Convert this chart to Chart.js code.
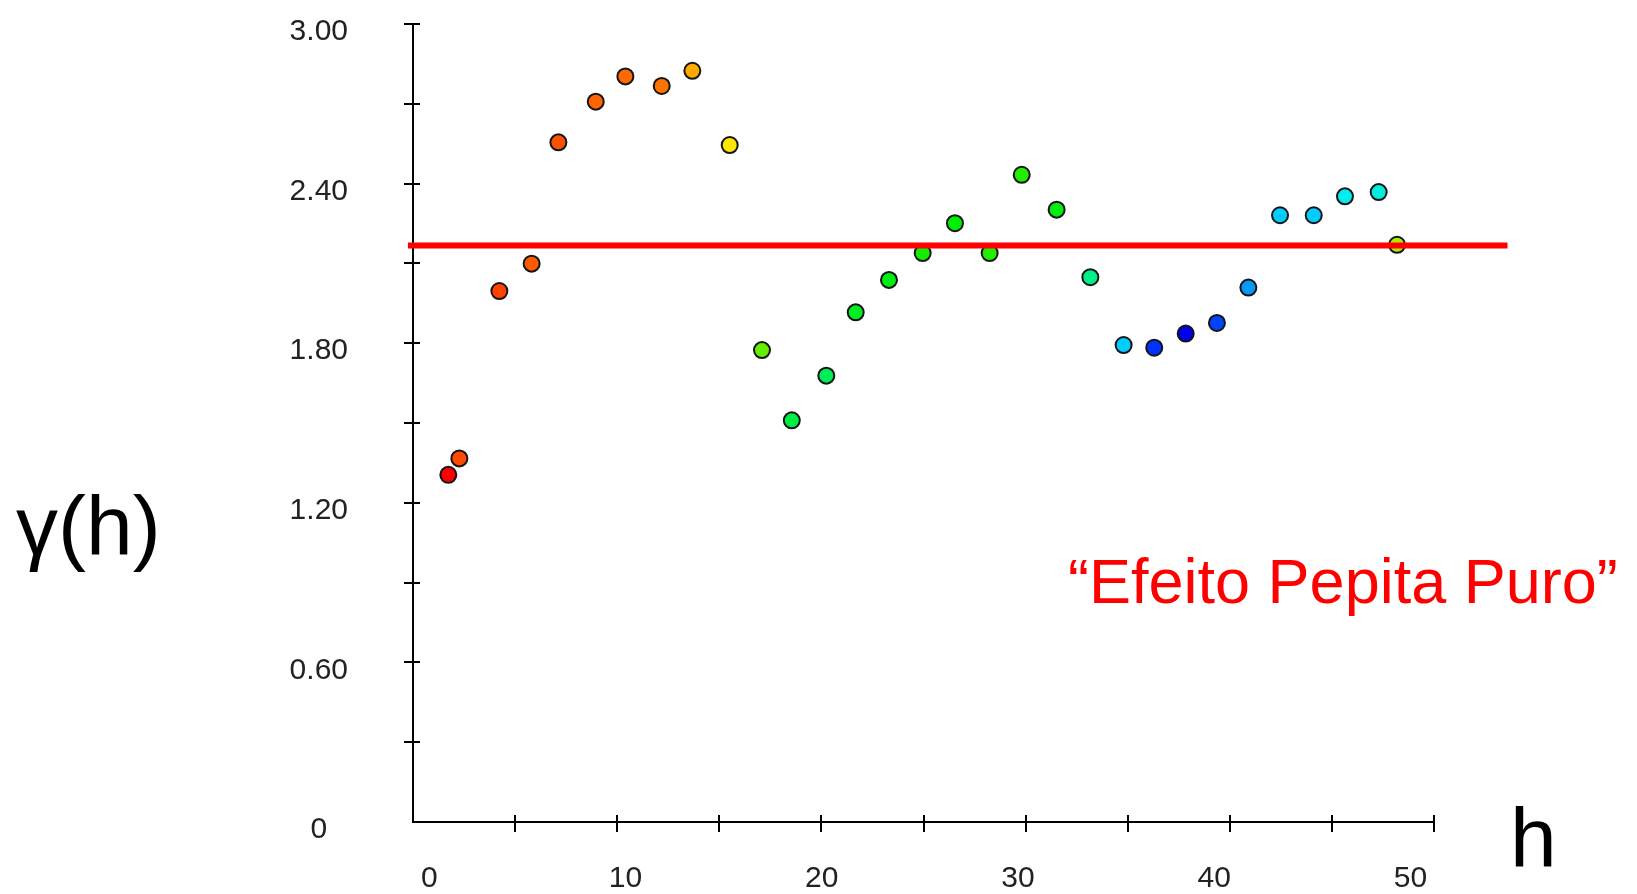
<!DOCTYPE html>
<html>
<head>
<meta charset="utf-8">
<title>Variograma - efeito pepita puro</title>
<script src="https://cdn.jsdelivr.net/npm/chart.js@4.4.1/dist/chart.umd.min.js"></script>
<style>
  html, body { margin: 0; padding: 0; background: #fff; }
  #wrap { position: relative; width: 1637px; height: 894px; }
</style>
</head>
<body>
<div id="wrap">
  <canvas id="vario" width="1637" height="894"></canvas>
</div>
<script>
// lag distance h and experimental semivariance gamma(h)
const lagH = [1.73, 2.27, 4.23, 5.81, 7.12, 8.95, 10.40, 12.18, 13.68, 15.51,
  17.09, 18.55, 20.24, 21.68, 23.31, 24.96, 26.54, 28.24, 29.81, 31.52,
  33.17, 34.80, 36.30, 37.84, 39.37, 40.91, 42.46, 44.11, 45.64, 47.29, 48.19];
const gamma = [1.305, 1.367, 1.996, 2.099, 2.555, 2.708, 2.803, 2.767, 2.824, 2.545,
  1.774, 1.510, 1.678, 1.916, 2.038, 2.139, 2.251, 2.139, 2.433, 2.302,
  2.048, 1.793, 1.783, 1.836, 1.876, 2.009, 2.281, 2.281, 2.352, 2.368, 2.170];
const pointColors = ["#ff0000", "#ff4a00", "#ff4200", "#ff5a00", "#ff5200", "#ff6400",
  "#ff6a00", "#ff7400", "#ffaa00", "#ffe600", "#66ee00", "#00ee44", "#00ee55",
  "#00ee22", "#00ee11", "#11ee00", "#00ee00", "#22ee00", "#22ee00", "#00ee11",
  "#00ee88", "#00ccff", "#0033ff", "#0000ee", "#0044ff", "#0099ff", "#00ccff",
  "#00ccff", "#00eeee", "#00eedd", "#aaee00"];

// pure nugget sill
const sillValue = 2.167;
const sillH = [-0.25, 53.6];

// axes
const yTicks = [0, 0.6, 1.2, 1.8, 2.4, 3.0];
const yMinor = [0.3, 0.6, 0.9, 1.2, 1.5, 1.8, 2.1, 2.4, 2.7, 3.0];
const xTicks = [0, 10, 20, 30, 40, 50];
const xMinor = [5, 10, 15, 20, 25, 30, 35, 40, 45, 50];

const tickFont = { family: "'Liberation Sans', Arial, sans-serif", size: 30 };

// tick marks crossing the axis lines, like the original plot
const crossTicks = {
  id: 'crossTicks',
  afterDraw(chart) {
    const ctx = chart.ctx;
    const xs = chart.scales.x, ys = chart.scales.y;
    const x0 = xs.getPixelForValue(0), y0 = ys.getPixelForValue(0);
    ctx.save();
    ctx.strokeStyle = '#000';
    ctx.lineWidth = 2;
    ctx.beginPath();
    yMinor.forEach(v => {
      const py = Math.round(ys.getPixelForValue(v));
      ctx.moveTo(x0 - 9, py);
      ctx.lineTo(x0 + 7, py);
    });
    xMinor.forEach(v => {
      const px = Math.round(xs.getPixelForValue(v));
      ctx.moveTo(px, y0 - 7);
      ctx.lineTo(px, y0 + 10);
    });
    ctx.stroke();

    // titles and annotation
    ctx.fillStyle = '#000';
    ctx.textBaseline = 'alphabetic';
    ctx.textAlign = 'left';
    ctx.font = "84px 'Liberation Sans', Arial, sans-serif";
    ctx.fillText('γ(h)', 16, 555);
    ctx.fillText('h', 1510, 867);
    ctx.fillStyle = '#ff0000';
    ctx.font = "63px 'Liberation Sans', Arial, sans-serif";
    ctx.fillText('“Efeito Pepita Puro”', 1068, 603);
    ctx.restore();
  }
};

function noPad(scale) {
  scale.paddingTop = 0;
  scale.paddingBottom = 0;
  scale.paddingLeft = 0;
  scale.paddingRight = 0;
}

new Chart(document.getElementById('vario'), {
  type: 'scatter',
  data: {
    datasets: [
      {
        type: 'line',
        label: 'patamar',
        data: sillH.map(h => ({ x: h, y: sillValue })),
        borderColor: '#ff0000',
        borderWidth: 6,
        pointRadius: 0,
        clip: false,
        order: 0
      },
      {
        label: 'γ(h)',
        data: lagH.map((h, i) => ({ x: h, y: gamma[i] })),
        backgroundColor: pointColors,
        borderColor: '#151515',
        borderWidth: 2,
        pointRadius: 8,
        order: 1
      }
    ]
  },
  options: {
    responsive: false,
    animation: false,
    events: [],
    layout: { padding: { left: 0, top: 24, right: 203, bottom: 0 } },
    plugins: {
      legend: { display: false },
      tooltip: { enabled: false }
    },
    scales: {
      x: {
        type: 'linear',
        position: 'bottom',
        weight: 0,
        min: 0,
        max: 50,
        grid: { display: false, drawTicks: false },
        border: { display: true, color: '#000', width: 2 },
        ticks: { display: false },
        afterFit(scale) { scale.height = 0; noPad(scale); }
      },
      xl: {
        type: 'linear',
        position: 'bottom',
        weight: 1,
        min: -0.83,
        max: 51.2,
        grid: { display: false, drawTicks: false },
        border: { display: false },
        afterBuildTicks(scale) { scale.ticks = xTicks.map(v => ({ value: v })); },
        ticks: {
          font: tickFont,
          color: '#222',
          padding: 39,
          maxRotation: 0,
          autoSkip: false,
          callback: v => String(v)
        },
        afterFit(scale) { scale.height = 72; noPad(scale); }
      },
      y: {
        type: 'linear',
        position: 'left',
        min: 0,
        max: 3,
        grid: { display: false, drawTicks: false },
        border: { display: true, color: '#000', width: 2 },
        afterBuildTicks(scale) { scale.ticks = yTicks.map(v => ({ value: v })); },
        ticks: {
          font: tickFont,
          color: '#222',
          crossAlign: 'center',
          padding: 65,
          labelOffset: 8,
          autoSkip: false,
          callback: v => v === 0 ? '0' : v.toFixed(2)
        },
        afterFit(scale) { scale.width = 413; noPad(scale); }
      }
    }
  },
  plugins: [crossTicks]
});
</script>
</body>
</html>
